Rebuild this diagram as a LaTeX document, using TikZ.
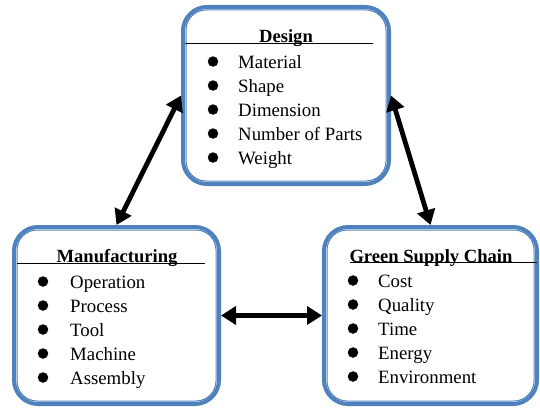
\documentclass[tikz,border=0pt]{standalone}
\usepackage{fontspec}
\setmainfont{Liberation Serif}
\usetikzlibrary{arrows.meta}
\definecolor{boxblue}{HTML}{4F81BD}
\begin{document}
\begin{tikzpicture}[x=1pt,y=1pt,
  panel/.style={draw=boxblue, line width=4pt, rounded corners=24pt, inner sep=0pt, minimum height=177pt},
  innerline/.style={draw=boxblue, line width=1pt, rounded corners=20pt},
  head/.style={font=\fontsize{18.6}{22}\selectfont\bfseries, anchor=base, inner sep=0pt},
  item/.style={font=\fontsize{18.8}{22}\selectfont, anchor=base west, inner sep=0pt},
  dot/.style={circle, fill=black, minimum size=10.5pt, inner sep=0pt},
  rule/.style={draw=black, line width=0.9pt},
  link/.style={draw=black, line width=4.8pt, {Triangle[length=15pt,width=18pt]}-{Triangle[length=15pt,width=18pt]}}
]
\useasboundingbox (0,0) rectangle (540,408);
% boxes
\node[panel, minimum width=206pt] (design) at (286,312.5) {};
\node[panel, minimum width=205pt] (manuf) at (116.5,92.5) {};
\node[panel, minimum width=213pt] (green) at (430.5,92.5) {};
\foreach \b in {design,manuf,green}{
  \draw[innerline] ([shift={(5pt,-5pt)}]\b.north west) rectangle ([shift={(-5pt,5pt)}]\b.south east);
}
% headings
\node[head] (dh) at (286,366) {Design};
\coordinate (dl1) at (185,365); \coordinate (dl2) at (373,365);
\draw[rule] (dl1) -- (dl2);
\node[head] (mh) at (117,146) {Manufacturing};
\coordinate (ml1) at (17,145); \coordinate (ml2) at (205,145);
\draw[rule] (ml1) -- (ml2);
\node[head] (gh) at (431,146) {Green Supply Chain};
\coordinate (gl1) at (350,145.5); \coordinate (gl2) at (537,145.5);
\draw[rule] (gl1) -- (gl2);
% design items
\foreach \t [count=\i] in {Material,Shape,Dimension,Number of Parts,Weight}{
  \pgfmathsetmacro{\yy}{340-24*(\i-1)}
  \node[item] (d\i) at (238,\yy) {\t};
  \node[dot] (dd\i) at (213,\yy+6.5) {};
}
% manufacturing items
\foreach \t [count=\i] in {Operation,Process,Tool,Machine,Assembly}{
  \pgfmathsetmacro{\yy}{120-24*(\i-1)}
  \node[item] (m\i) at (70,\yy) {\t};
  \node[dot] (md\i) at (43,\yy+6.5) {};
}
% green items
\foreach \t [count=\i] in {Cost,Quality,Time,Energy,Environment}{
  \pgfmathsetmacro{\yy}{121-24*(\i-1)}
  \node[item] (g\i) at (378,\yy) {\t};
  \node[dot] (gd\i) at (353,\yy+6.5) {};
}
% connectors
\draw[link] (design.west) -- (manuf.north);
\draw[link] (design.east) -- (green.north);
\draw[link] (manuf.east) -- (green.west);
\end{tikzpicture}
\end{document}
